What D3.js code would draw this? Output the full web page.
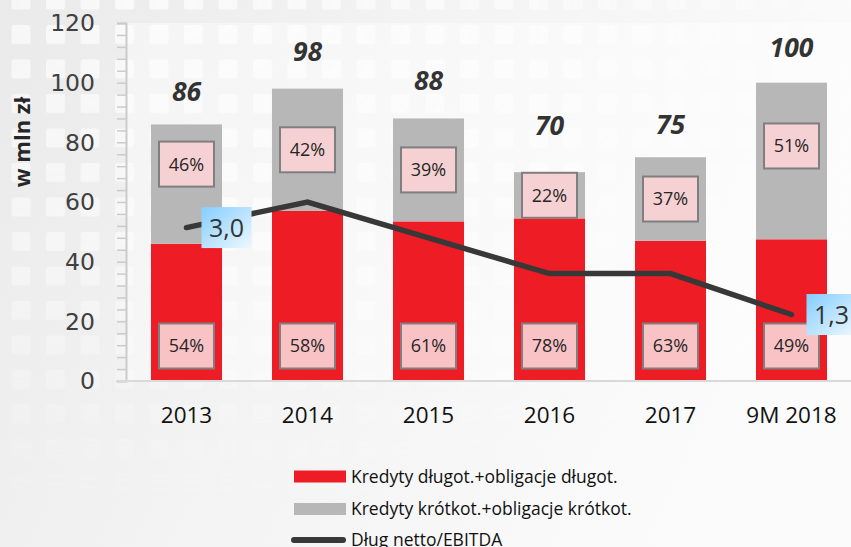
<!DOCTYPE html>
<html><head><meta charset="utf-8">
<script src="https://cdn.jsdelivr.net/npm/d3@7"></script>
<style>html,body{margin:0;padding:0;background:#f4f4f4;}svg{display:block;}</style>
</head><body>
<svg id="chart" width="851" height="547"></svg>
<script>
// ---- data ----
const categories = ["2013", "2014", "2015", "2016", "2017", "9M 2018"];
const longTerm  = [46, 57, 53.5, 54.5, 47, 47.5];   // Kredyty długot.+obligacje długot.
const shortTerm = [40, 41, 34.5, 15.5, 28, 52.5];   // Kredyty krótkot.+obligacje krótkot.
const totalLabels = ["86", "98", "88", "70", "75", "100"];
const longPctLabels  = ["54%", "58%", "61%", "78%", "63%", "49%"];
const shortPctLabels = ["46%", "42%", "39%", "22%", "37%", "51%"];
const debtToEbitda = [3.0, 3.5, 2.8, 2.1, 2.1, 1.3];
const debtLabels = ["3,0", null, null, null, null, "1,3"];
const yTicks = [0, 20, 40, 60, 80, 100, 120];
const yTitle = "w mln zł";
const legendLabels = ["Kredyty długot.+obligacje długot.", "Kredyty krótkot.+obligacje krótkot.", "Dług netto/EBITDA"];

// ---- layout ----
const W = 851, H = 547;
const plot = {left: 126, right: 852, top: 23, bottom: 381};
const colors = {long: "#ee1c25", short: "#b7b7b7", line: "#383838"};
const totalGap = [23.5, 28, 28.5, 37, 23.5, 25.5];
const shortNudge = [-20, 0, 0, 0, 0, -15];

const svg = d3.select("#chart");
const defs = svg.append("defs");

// background gradient
const bg = defs.append("linearGradient").attr("id", "bgGrad").attr("x1", 0).attr("y1", 0).attr("x2", 1).attr("y2", 0.3);
bg.append("stop").attr("offset", 0).attr("stop-color", "#eaeaea");
bg.append("stop").attr("offset", 0.45).attr("stop-color", "#f3f3f3");
bg.append("stop").attr("offset", 1).attr("stop-color", "#fbfbfb");

const pat = defs.append("pattern").attr("id", "sq").attr("patternUnits", "userSpaceOnUse")
  .attr("x", 11.5).attr("y", 25).attr("width", 34.5).attr("height", 34.5);
pat.append("rect").attr("x", 0).attr("y", 0).attr("width", 19).attr("height", 19).attr("rx", 2.5).attr("fill", "#ffffff");

const rg = defs.append("radialGradient").attr("id", "fadeGrad").attr("cx", 0.2).attr("cy", 0.0).attr("r", 0.95);
rg.append("stop").attr("offset", 0).attr("stop-color", "#fff").attr("stop-opacity", 1);
rg.append("stop").attr("offset", 0.5).attr("stop-color", "#fff").attr("stop-opacity", 0.65);
rg.append("stop").attr("offset", 0.85).attr("stop-color", "#fff").attr("stop-opacity", 0.15);
rg.append("stop").attr("offset", 1).attr("stop-color", "#fff").attr("stop-opacity", 0);
const mask = defs.append("mask").attr("id", "fadeMask");
mask.append("rect").attr("width", W).attr("height", H).attr("fill", "url(#fadeGrad)");

const lb = defs.append("linearGradient").attr("id", "blueGrad").attr("x1", 0).attr("y1", 0).attr("x2", 1).attr("y2", 1);
lb.append("stop").attr("offset", 0).attr("stop-color", "#84cdff");
lb.append("stop").attr("offset", 1).attr("stop-color", "#eef8ff");

svg.append("rect").attr("width", W).attr("height", H).attr("fill", "url(#bgGrad)");
svg.append("rect").attr("width", W).attr("height", H).attr("fill", "url(#sq)").attr("mask", "url(#fadeMask)").attr("opacity", 0.7);
svg.append("rect").attr("x", plot.left).attr("y", plot.top).attr("width", W - plot.left).attr("height", plot.bottom - plot.top)
  .attr("fill", "#ffffff").attr("opacity", 0.4);

// ---- scales ----
const x = d3.scaleBand().domain(categories).range([plot.left, plot.right]).paddingInner(0.413).paddingOuter(0.2065);
const y = d3.scaleLinear().domain([0, 120]).range([plot.bottom, plot.top]);
const y2 = d3.scaleLinear().domain([0, 7]).range([plot.bottom, plot.top]);

// ---- axes ----
const yAxisG = svg.append("g").attr("transform", `translate(${plot.left},0)`)
  .call(d3.axisLeft(y).tickValues(d3.range(0, 121, 4)).tickSize(9).tickFormat(""));
yAxisG.select(".domain").attr("stroke", "#cbcbcb").attr("stroke-width", 2);
yAxisG.selectAll(".tick line").attr("stroke", "#cbcbcb").attr("stroke-width", 1.5);

svg.append("g").selectAll("text").data(yTicks).join("text")
  .attr("x", 95).attr("y", d => y(d)).attr("dy", "0.36em").attr("text-anchor", "end")
  .attr("font-family", "DejaVu Sans").attr("font-size", 23.5).attr("fill", "#404040").text(d => d);

svg.append("text").attr("transform", `translate(30,142) rotate(-90)`).attr("text-anchor", "middle")
  .attr("font-family", "Open Sans").attr("font-weight", "bold").attr("font-size", 22).attr("fill", "#262626").text(yTitle);

// ---- bars ----
const rows = categories.map((c, i) => ({c, i, lo: longTerm[i], sh: shortTerm[i]}));
const bars = svg.append("g");
bars.selectAll("rect.long").data(rows).join("rect").attr("class", "long")
  .attr("x", d => x(d.c)).attr("width", x.bandwidth())
  .attr("y", d => y(d.lo)).attr("height", d => y(0) - y(d.lo)).attr("fill", colors.long);
bars.selectAll("rect.short").data(rows).join("rect").attr("class", "short")
  .attr("x", d => x(d.c)).attr("width", x.bandwidth())
  .attr("y", d => y(d.lo + d.sh)).attr("height", d => y(d.lo) - y(d.lo + d.sh)).attr("fill", colors.short);

// baseline
svg.append("line").attr("x1", 116).attr("x2", W).attr("y1", y(0)).attr("y2", y(0))
  .attr("stroke", "#d9d9d9").attr("stroke-width", 2);

// x labels
svg.append("g").selectAll("text").data(categories).join("text")
  .attr("x", d => x(d) + x.bandwidth() / 2).attr("y", 423).attr("text-anchor", "middle")
  .attr("font-family", "Open Sans").attr("font-size", 22.5).attr("fill", "#111").text(d => d);

// percent boxes
const boxW = 55, boxH = 45;
function pctBox(g, cx, cy, txt, fill) {
  g.append("rect").attr("x", cx - boxW / 2).attr("y", cy - boxH / 2).attr("width", boxW).attr("height", boxH)
    .attr("fill", fill).attr("stroke", "#7f7f7f").attr("stroke-width", 2);
  g.append("text").attr("x", cx).attr("y", cy).attr("dy", "0.36em").attr("text-anchor", "middle")
    .attr("font-family", "Open Sans").attr("font-size", 18).attr("fill", "#262626").text(txt);
}
const lblG = svg.append("g");
rows.forEach(d => {
  const cx = x(d.c) + x.bandwidth() / 2;
  pctBox(lblG, cx, (y(d.lo) + y(d.lo + d.sh)) / 2 + shortNudge[d.i], shortPctLabels[d.i], "#f6d1d3");
  pctBox(lblG, cx, y(0) - 35, longPctLabels[d.i], "#f9c3c6");
});

// totals
svg.append("g").selectAll("text").data(rows).join("text")
  .attr("x", d => x(d.c) + x.bandwidth() / 2).attr("y", d => y(d.lo + d.sh) - totalGap[d.i])
  .attr("text-anchor", "middle").attr("font-family", "Open Sans").attr("font-weight", "bold")
  .attr("font-style", "italic").attr("font-size", 26.5).attr("fill", "#333").text(d => totalLabels[d.i]);

// ---- line ----
const line = d3.line().x((d, i) => x(categories[i]) + x.bandwidth() / 2).y(d => y2(d));
svg.append("path").datum(debtToEbitda).attr("d", line).attr("fill", "none")
  .attr("stroke", colors.line).attr("stroke-width", 5.5).attr("stroke-linecap", "round").attr("stroke-linejoin", "miter");

debtLabels.forEach((t, i) => {
  if (!t) return;
  const px = x(categories[i]) + x.bandwidth() / 2 + 15;
  const py = y2(debtToEbitda[i]);
  const g = svg.append("g");
  g.append("rect").attr("x", px).attr("y", py - 20.5).attr("width", 50).attr("height", 41).attr("fill", "url(#blueGrad)");
  g.append("text").attr("x", px + 25).attr("y", py).attr("dy", "0.36em").attr("text-anchor", "middle")
    .attr("font-family", "Open Sans").attr("font-size", 25).attr("fill", "#333").text(t);
});

// ---- legend ----
const lg = svg.append("g");
const legY = [476.5, 509, 540];
lg.append("rect").attr("x", 294).attr("y", legY[0] - 6).attr("width", 52).attr("height", 12).attr("fill", colors.long);
lg.append("rect").attr("x", 294).attr("y", legY[1] - 6).attr("width", 52).attr("height", 12).attr("fill", colors.short);
lg.append("line").attr("x1", 294).attr("x2", 343).attr("y1", legY[2]).attr("y2", legY[2])
  .attr("stroke", colors.line).attr("stroke-width", 6).attr("stroke-linecap", "round");
lg.selectAll("text").data(legendLabels).join("text")
  .attr("x", 351).attr("y", (d, i) => legY[i]).attr("dy", "0.36em")
  .attr("font-family", "Open Sans").attr("font-size", 17.5).attr("fill", "#111").text(d => d);
</script>
</body></html>
